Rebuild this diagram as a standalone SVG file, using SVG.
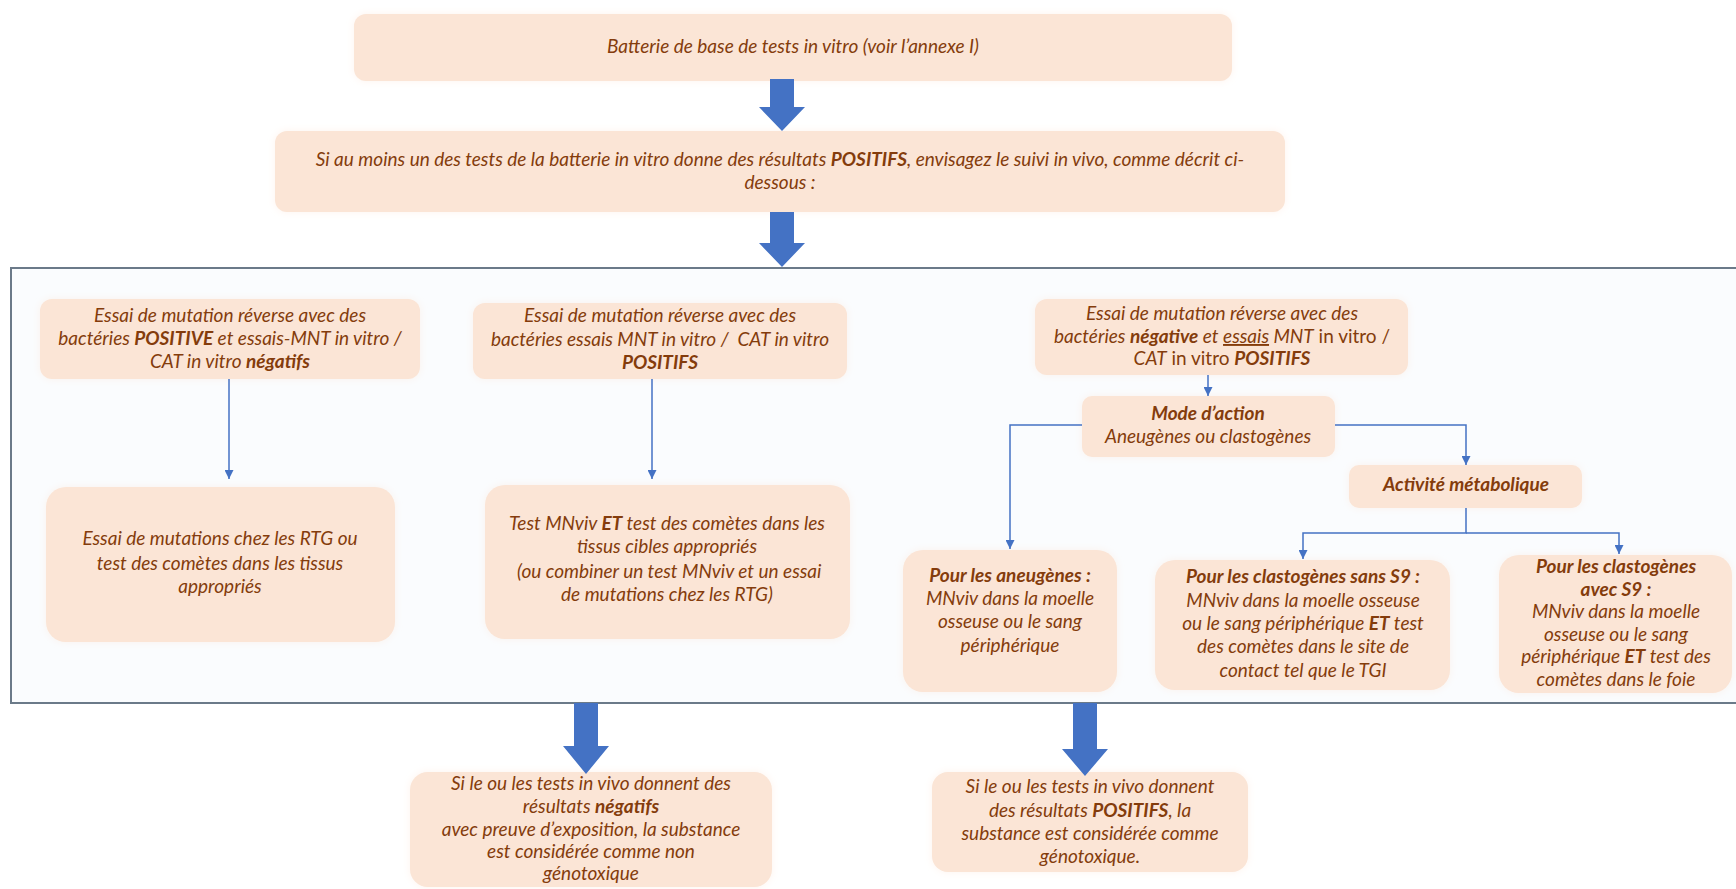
<svg xmlns="http://www.w3.org/2000/svg" width="1736" height="889" viewBox="0 0 1736 889">
<defs>
<style>
.box{fill:#FBE5D6;filter:url(#glow)}
.t{font-family:Lato,"Open Sans","Liberation Sans",sans-serif;font-style:italic;font-size:19px;fill:#843C0C;text-anchor:middle}
.b{font-weight:bold}
.n{font-style:normal}
.u{text-decoration:underline}
.pre{white-space:pre}
.c{fill:none;stroke:#4472C4;stroke-width:1.5;marker-end:url(#ah)}
.big{fill:#4472C4}
</style>
<filter id="glow" x="-10%" y="-20%" width="120%" height="140%">
<feGaussianBlur in="SourceGraphic" stdDeviation="4" result="bl"/>
<feComponentTransfer in="bl" result="bl2"><feFuncA type="linear" slope="0.45"/></feComponentTransfer>
<feMerge><feMergeNode in="bl2"/><feMergeNode in="SourceGraphic"/></feMerge>
</filter>
<marker id="ah" viewBox="0 0 10 10" refX="10" refY="5" markerWidth="9" markerHeight="9" markerUnits="userSpaceOnUse" orient="auto">
<path d="M0,0 L10,5 L0,10 Z" fill="#4472C4"/>
</marker>
</defs>
<rect width="1736" height="889" fill="#FFFFFF"/>

<g id="frame">
<rect x="11" y="268" width="1735" height="435" fill="#FAFCFE" stroke="#6B7A89" stroke-width="2"/>
</g>

<g id="n-top">
<rect class="box" x="354" y="14" width="878" height="67" rx="12"/>
<text class="t" x="793" y="53">Batterie de base de tests in vitro (voir l’annexe I)</text>
</g>

<g id="n-second">
<rect class="box" x="275" y="131" width="1010" height="81" rx="12"/>
<text class="t" x="780" y="166">Si au moins un des tests de la batterie in vitro donne des résultats <tspan class="b">POSITIFS</tspan>, envisagez le suivi in vivo, comme décrit ci-</text>
<text class="t" x="780" y="189">dessous :</text>
</g>

<g id="n-a">
<rect class="box" x="40" y="299" width="380" height="80" rx="12"/>
<text class="t" x="230" y="322">Essai de mutation réverse avec des</text>
<text class="t" x="230" y="345">bactéries <tspan class="b">POSITIVE</tspan> et essais-MNT in vitro /</text>
<text class="t" x="230" y="368">CAT in vitro <tspan class="b">négatifs</tspan></text>
</g>

<g id="n-b">
<rect class="box" x="473" y="303" width="374" height="76" rx="12"/>
<text class="t" x="660" y="322">Essai de mutation réverse avec des</text>
<text class="t pre" x="660" y="346">bactéries essais MNT in vitro /  CAT in vitro</text>
<text class="t" x="660" y="369"><tspan class="b">POSITIFS</tspan></text>
</g>

<g id="n-c">
<rect class="box" x="46" y="487" width="349" height="155" rx="20"/>
<text class="t" x="220" y="545">Essai de mutations chez les RTG ou</text>
<text class="t" x="220" y="570">test des comètes dans les tissus</text>
<text class="t" x="220" y="593">appropriés</text>
</g>

<g id="n-d">
<rect class="box" x="485" y="485" width="365" height="154" rx="20"/>
<text class="t" x="667" y="530">Test MNviv <tspan class="b">ET</tspan> test des comètes dans les</text>
<text class="t" x="667" y="553">tissus cibles appropriés</text>
<text class="t pre" x="667" y="578"> (ou combiner un test MNviv et un essai</text>
<text class="t" x="667" y="601">de mutations chez les RTG)</text>
</g>

<g id="n-e">
<rect class="box" x="1035" y="299" width="373" height="76" rx="12"/>
<text class="t" x="1222" y="320">Essai de mutation réverse avec des</text>
<text class="t" x="1222" y="343">bactéries <tspan class="b">négative</tspan> et <tspan class="u">essais</tspan> MNT<tspan class="n"> in vitro /</tspan></text>
<text class="t" x="1222" y="365">CAT<tspan class="n"> in vitro </tspan><tspan class="b">POSITIFS</tspan></text>
</g>

<g id="n-mode">
<rect class="box" x="1082" y="396" width="253" height="61" rx="10"/>
<text class="t b" x="1208" y="420">Mode d’action</text>
<text class="t" x="1208" y="443">Aneugènes ou clastogènes</text>
</g>

<g id="n-activite">
<rect class="box" x="1349" y="465" width="233" height="43" rx="10"/>
<text class="t b" x="1466" y="491">Activité métabolique</text>
</g>

<g id="n-f">
<rect class="box" x="903" y="550" width="214" height="142" rx="20"/>
<text class="t b" x="1010" y="582">Pour les aneugènes :</text>
<text class="t" x="1010" y="605">MNviv dans la moelle</text>
<text class="t" x="1010" y="628">osseuse ou le sang</text>
<text class="t" x="1010" y="652">périphérique</text>
</g>

<g id="n-g">
<rect class="box" x="1155" y="560" width="295" height="130" rx="20"/>
<text class="t b" x="1303" y="583">Pour les clastogènes sans S9 :</text>
<text class="t" x="1303" y="607">MNviv dans la moelle osseuse</text>
<text class="t" x="1303" y="630">ou le sang périphérique <tspan class="b">ET</tspan> test</text>
<text class="t" x="1303" y="653">des comètes dans le site de</text>
<text class="t" x="1303" y="677">contact tel que le TGI</text>
</g>

<g id="n-h">
<rect class="box" x="1499" y="555" width="233" height="138" rx="20"/>
<text class="t b" x="1616" y="573">Pour les clastogènes</text>
<text class="t b" x="1616" y="596">avec S9 :</text>
<text class="t" x="1616" y="618">MNviv dans la moelle</text>
<text class="t" x="1616" y="641">osseuse ou le sang</text>
<text class="t" x="1616" y="663">périphérique <tspan class="b">ET</tspan> test des</text>
<text class="t" x="1616" y="686">comètes dans le foie</text>
</g>

<g id="n-i">
<rect class="box" x="410" y="772" width="362" height="115" rx="18"/>
<text class="t" x="591" y="790">Si le ou les tests in vivo donnent des</text>
<text class="t" x="591" y="813">résultats <tspan class="b">négatifs</tspan></text>
<text class="t" x="591" y="836">avec preuve d’exposition, la substance</text>
<text class="t" x="591" y="858">est considérée comme non</text>
<text class="t" x="591" y="880">génotoxique</text>
</g>

<g id="n-j">
<rect class="box" x="932" y="772" width="316" height="100" rx="16"/>
<text class="t" x="1090" y="793">Si le ou les tests in vivo donnent</text>
<text class="t" x="1090" y="817">des résultats <tspan class="b">POSITIFS</tspan>, la</text>
<text class="t" x="1090" y="840">substance est considérée comme</text>
<text class="t" x="1090" y="863">génotoxique.</text>
</g>

<g id="connectors">
<path class="big" d="M770,79 H794 V107 H805 L782,131 L759,107 H770 Z"/>
<path class="big" d="M770,212 H794 V243 H805 L782,267 L759,243 H770 Z"/>
<path class="big" d="M574,703 H598 V746 H609 L586,774 L563,746 H574 Z"/>
<path class="big" d="M1073,703 H1097 V749 H1108 L1085,776 L1062,749 H1073 Z"/>
<path class="c" d="M229,379 V479"/>
<path class="c" d="M652,379 V479"/>
<path class="c" d="M1208,375 V396"/>
<path class="c" d="M1082,425 H1010 V549"/>
<path class="c" d="M1335,425 H1466 V465"/>
<path class="c" d="M1466,508 V533 H1303 V559"/>
<path class="c" d="M1466,533 H1619 V554"/>
</g>
</svg>
